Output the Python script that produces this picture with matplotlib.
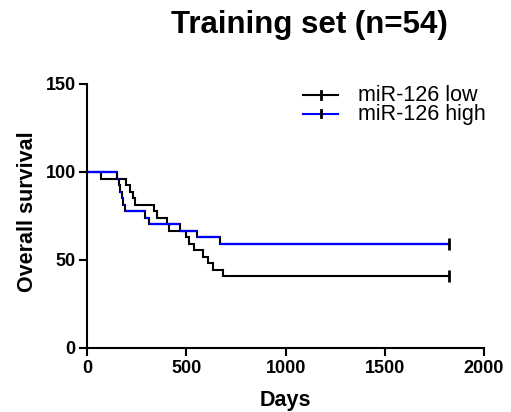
import matplotlib
matplotlib.use("Agg")
import matplotlib.pyplot as plt
from matplotlib.lines import Line2D

# ---- data ----
low_days = [0, 67, 193, 213, 228, 240, 334, 349, 400, 413, 500, 514, 540, 582, 607, 632, 684, 1825]
low_surv = [100, 96.3, 92.6, 88.9, 85.2, 81.5, 77.8, 74.1, 70.4, 66.7, 63.0, 59.3, 55.6, 51.9, 48.1, 44.4, 40.7, 40.7]
high_days = [0, 148, 158, 166, 175, 182, 188, 292, 309, 467, 551, 669, 1825]
high_surv = [100, 96.3, 92.6, 88.9, 85.2, 81.5, 77.8, 74.1, 70.4, 66.7, 63.0, 59.3, 59.3]
series_labels = ["miR-126 low", "miR-126 high"]
x_ticks = [0, 500, 1000, 1500, 2000]
y_ticks = [0, 50, 100, 150]
title = "Training set (n=54)"
x_label = "Days"
y_label = "Overall survival"

FONT = "Liberation Sans"
BLUE = "#0000FF"
W, H = 511, 412

fig = plt.figure(figsize=(W / 100, H / 100), dpi=100)
ax = fig.add_axes([87.3 / W, 1 - 348 / H, (484 - 87.3) / W, (348 - 84) / H])

lw = 1.5
# low group: black step
ax.step(low_days, low_surv, where="post", color="black", lw=lw, solid_joinstyle="miter")
# high group: verticals black, horizontals blue
ax.step(high_days, high_surv, where="post", color="black", lw=lw, solid_joinstyle="miter")
ax.hlines(high_surv[:-1], high_days[:-1], high_days[1:], colors=BLUE, lw=lw + 0.1)
# censor marks at end of follow-up
ax.plot([low_days[-1]], [low_surv[-1]], marker="|", ms=8, mew=2, color="black")
ax.plot([high_days[-1]], [high_surv[-1]], marker="|", ms=8, mew=2, color="black")

ax.set_xlim(0, 2000)
ax.set_ylim(0, 150)
ax.set_xticks(x_ticks)
ax.set_yticks(y_ticks)
for s in ["top", "right"]:
    ax.spines[s].set_visible(False)
for s in ["left", "bottom"]:
    ax.spines[s].set_linewidth(1.5)
ax.tick_params(direction="out", length=5.8, width=1.5, pad=2.5, labelsize=13)
for lab in ax.get_xticklabels() + ax.get_yticklabels():
    lab.set_fontfamily(FONT)
    lab.set_fontweight("bold")

fig.text(309 / W, 1 - 32.5 / H, title, ha="center", va="baseline",
         fontsize=22.5, fontweight="bold", family=FONT)
fig.text(285.7 / W, 1 - 406 / H, x_label, ha="center", va="baseline",
         fontsize=15.5, fontweight="bold", family=FONT)
fig.text(33.3 / W, 1 - 212 / H, y_label, ha="center", va="baseline", rotation=90,
         rotation_mode="anchor", fontsize=15.5, fontweight="bold", family=FONT)

# legend drawn manually
leg_y = [94.5, 113.5]
leg_colors = ["black", BLUE]
for yy, col, lab in zip(leg_y, leg_colors, series_labels):
    fy = 1 - yy / H
    fig.add_artist(Line2D([303 / W, 338 / W], [fy, fy], color=col, lw=1.5, transform=fig.transFigure))
    fig.add_artist(Line2D([320.5 / W, 320.5 / W], [fy - 4 / H, fy + 4 / H], color="black", lw=2,
                          transform=fig.transFigure))
    fig.text(358 / W, 1 - (yy + 6.5) / H, lab, ha="left", va="baseline", fontsize=15.5, family=FONT)

fig.savefig("out.png", dpi=100)
